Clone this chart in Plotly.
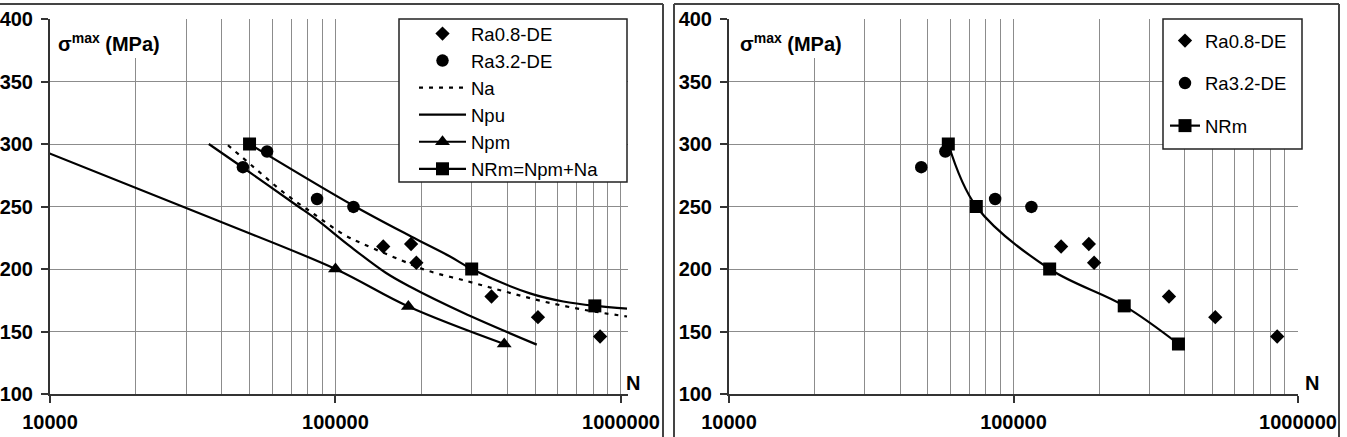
import plotly.graph_objects as go

# ---------------- data ----------------
ra08_N = [147000, 184000, 192000, 352000, 512000, 845000]
ra08_S = [218, 220, 205, 178, 161.5, 146]

ra32_N = [47400, 57600, 86200, 115600]
ra32_S = [281.5, 294, 256, 249.7]

na_N = [42000, 52000, 66000, 84000, 108000, 125000, 170000, 208000, 292000, 392000, 536000, 757000, 1050000]
na_S = [299, 281, 261, 244, 227, 220, 207, 199, 190, 182, 174, 167, 162]

npu_N = [36000, 47500, 73000, 86000, 112000, 150000, 182000, 280000, 507000]
npu_S = [300, 281, 251, 239.5, 218.5, 197, 186, 165, 139.5]

npm_N = [9000, 38400, 100000, 180000, 390000]
npm_S = [296.5, 239, 200, 170, 140]
npm_mark_N = [100000, 180000, 390000]
npm_mark_S = [200, 170, 140]

nrm_N = [50000, 115000, 184000, 252000, 300000, 480000, 628000, 810000, 1050000]
nrm_S = [300, 251, 226, 210, 200, 180.5, 174, 170.5, 168.3]
nrm_mark_N = [50000, 300000, 810000]
nrm_mark_S = [300, 200, 170.5]

nrm2_N = [59000, 74000, 134000, 245000, 380000]
nrm2_S = [300, 250, 200, 170.5, 140]

x_tickvals = [10000, 100000, 1000000]
x_ticktext = ["10000", "100000", "1000000"]
y_tickvals = [100, 150, 200, 250, 300, 350, 400]
minor_vals = [m * d for d in (10000, 100000) for m in range(2, 10)]

# ---------------- layout helpers ----------------
W, H = 1347, 437
def px(p):
    return p / W
def py(p):
    return 1 - p / H

FONT = "Liberation Sans, Arial, sans-serif"
AXC = "#333333"
GRC = "#8c8c8c"

fig = go.Figure()

def add(tr):
    fig.add_trace(tr)

DIA = 11
CIR = 12.5
SQ = 13
TRI = 13

# ---- left chart ----
add(go.Scatter(x=ra08_N, y=ra08_S, mode="markers", name="Ra0.8-DE",
               marker=dict(symbol="diamond", size=DIA, color="black"),
               xaxis="x", yaxis="y", legend="legend"))
add(go.Scatter(x=ra32_N, y=ra32_S, mode="markers", name="Ra3.2-DE",
               marker=dict(symbol="circle", size=CIR, color="black"),
               xaxis="x", yaxis="y", legend="legend"))
add(go.Scatter(x=na_N, y=na_S, mode="lines", name="Na", line_shape="spline",
               line=dict(color="black", width=2.2, dash="4px,6px"),
               xaxis="x", yaxis="y", legend="legend"))
add(go.Scatter(x=npu_N, y=npu_S, mode="lines", name="Npu", line_shape="spline",
               line=dict(color="black", width=2.2),
               xaxis="x", yaxis="y", legend="legend"))
add(go.Scatter(x=npm_N, y=npm_S, mode="lines", name="Npm", line_shape="spline",
               line=dict(color="black", width=2.2), showlegend=False,
               xaxis="x", yaxis="y"))
add(go.Scatter(x=npm_mark_N, y=npm_mark_S, mode="markers", name="Npm",
               marker=dict(symbol="triangle-up", size=TRI, color="black"), showlegend=False,
               xaxis="x", yaxis="y"))
add(go.Scatter(x=[None], y=[None], mode="lines+markers", name="Npm",
               line=dict(color="black", width=2.2),
               marker=dict(symbol="triangle-up", size=TRI, color="black"),
               xaxis="x", yaxis="y", legend="legend"))
add(go.Scatter(x=nrm_N, y=nrm_S, mode="lines", name="NRm=Npm+Na", line_shape="spline",
               line=dict(color="black", width=2.2), showlegend=False,
               xaxis="x", yaxis="y"))
add(go.Scatter(x=nrm_mark_N, y=nrm_mark_S, mode="markers", name="NRm=Npm+Na",
               marker=dict(symbol="square", size=SQ, color="black"), showlegend=False,
               xaxis="x", yaxis="y"))
add(go.Scatter(x=[None], y=[None], mode="lines+markers", name="NRm=Npm+Na",
               line=dict(color="black", width=2.2),
               marker=dict(symbol="square", size=SQ, color="black"),
               xaxis="x", yaxis="y", legend="legend"))

# ---- right chart ----
add(go.Scatter(x=ra08_N, y=ra08_S, mode="markers", name="Ra0.8-DE", legendgroup="a",
               marker=dict(symbol="diamond", size=DIA, color="black"),
               xaxis="x2", yaxis="y2", legend="legend2"))
add(go.Scatter(x=ra32_N, y=ra32_S, mode="markers", name="Ra3.2-DE", legendgroup="b",
               marker=dict(symbol="circle", size=CIR, color="black"),
               xaxis="x2", yaxis="y2", legend="legend2"))
add(go.Scatter(x=nrm2_N, y=nrm2_S, mode="lines+markers", name="NRm", legendgroup="c",
               line_shape="spline", line=dict(color="black", width=2.2),
               marker=dict(symbol="square", size=SQ, color="black"),
               xaxis="x2", yaxis="y2", legend="legend2"))

tickfont = dict(family=FONT, size=20, color="black", weight="bold")

def xaxis(dom, rng, anchor):
    return dict(type="log", domain=dom, range=rng, anchor=anchor,
                tickvals=x_tickvals, ticktext=x_ticktext, tickfont=tickfont,
                ticks="outside", ticklen=7, tickwidth=2, tickcolor=AXC,
                ticklabelstandoff=2, automargin=False,
                showline=True, linecolor=AXC, linewidth=2,
                showgrid=True, gridcolor=GRC, gridwidth=1,
                minor=dict(tickvals=minor_vals, showgrid=True, gridcolor=GRC,
                           gridwidth=1, ticks=""),
                zeroline=False, fixedrange=True)

def yaxis(anchor):
    return dict(domain=[py(394), py(19)], range=[100, 400], anchor=anchor,
                tickvals=y_tickvals, tickfont=tickfont,
                ticks="outside", ticklen=7, tickwidth=2, tickcolor=AXC,
                ticklabelstandoff=4, automargin=False,
                showline=True, linecolor=AXC, linewidth=2,
                showgrid=True, gridcolor=GRC, gridwidth=1,
                zeroline=False, fixedrange=True)

legfont = dict(family=FONT, size=18.5, color="black")

shapes = [
    # white boxes behind the y-titles
    dict(type="rect", xref="paper", yref="paper", x0=px(51.5), x1=px(167), y0=py(58), y1=py(17.5),
         fillcolor="white", line=dict(width=0), layer="above"),
    dict(type="rect", xref="paper", yref="paper", x0=px(730.5), x1=px(853), y0=py(58), y1=py(17.5),
         fillcolor="white", line=dict(width=0), layer="above"),
    # legend boxes
    dict(type="rect", xref="paper", yref="paper", x0=px(399), x1=px(627), y0=py(182), y1=py(19),
         fillcolor="white", line=dict(color="#222222", width=1.5), layer="above"),
    dict(type="rect", xref="paper", yref="paper", x0=px(1163), x1=px(1302), y0=py(149), y1=py(19),
         fillcolor="white", line=dict(color="#222222", width=1.5), layer="above"),
    # chart frames
    dict(type="line", xref="paper", yref="paper", x0=px(0), x1=px(663), y0=py(4), y1=py(4),
         line=dict(color="#444444", width=2)),
    dict(type="line", xref="paper", yref="paper", x0=px(663), x1=px(663), y0=py(4), y1=-0.05,
         line=dict(color="#444444", width=2)),
    dict(type="line", xref="paper", yref="paper", x0=px(674), x1=px(1339), y0=py(4), y1=py(4),
         line=dict(color="#444444", width=2)),
    dict(type="line", xref="paper", yref="paper", x0=px(674), x1=px(674), y0=py(4), y1=-0.05,
         line=dict(color="#444444", width=2)),
    dict(type="line", xref="paper", yref="paper", x0=px(1339), x1=px(1339), y0=py(4), y1=-0.05,
         line=dict(color="#444444", width=2)),
]

labfont = dict(family=FONT, size=20, color="black", weight="bold")
annotations = [
    dict(text="σ<sup>max</sup> (MPa)", xref="paper", yref="paper", x=px(56), y=py(42),
         xanchor="left", yanchor="middle", showarrow=False, font=labfont),
    dict(text="σ<sup>max</sup> (MPa)", xref="paper", yref="paper", x=px(738), y=py(42),
         xanchor="left", yanchor="middle", showarrow=False, font=labfont),
    dict(text="N", xref="paper", yref="paper", x=px(633), y=py(383),
         xanchor="center", yanchor="middle", showarrow=False,
         font=dict(family=FONT, size=20, color="black", weight="bold")),
    dict(text="N", xref="paper", yref="paper", x=px(1312), y=py(383),
         xanchor="center", yanchor="middle", showarrow=False,
         font=dict(family=FONT, size=20, color="black", weight="bold")),
]

fig.update_layout(
    width=W, height=H, margin=dict(l=0, r=0, t=0, b=0, autoexpand=False),
    paper_bgcolor="white", plot_bgcolor="white",
    xaxis=xaxis([px(50), px(628.1)], [4, 6.025], "y"),
    yaxis=yaxis("x"),
    xaxis2=xaxis([px(729), px(1298)], [4, 6], "y2"),
    yaxis2=yaxis("x2"),
    legend=dict(x=px(414), y=py(15), xanchor="left", yanchor="top",
                bgcolor="rgba(0,0,0,0)", borderwidth=0, font=legfont,
                itemwidth=47, tracegroupgap=0),
    legend2=dict(x=px(1165), y=py(22), xanchor="left", yanchor="top",
                 bgcolor="rgba(0,0,0,0)", borderwidth=0, font=legfont,
                 itemwidth=30, tracegroupgap=15.5),
    shapes=shapes, annotations=annotations,
    showlegend=True,
)

fig.write_html("out.html", config={"displayModeBar": False},
               post_script="document.body.style.margin='0';")
